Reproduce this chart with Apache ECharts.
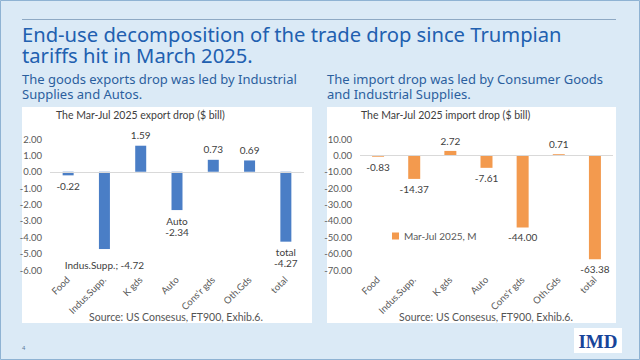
<!DOCTYPE html>
<html><head><meta charset="utf-8">
<script src="https://cdn.jsdelivr.net/npm/echarts@6/dist/echarts.min.js"></script>
<style>html,body{margin:0;padding:0;background:#dbeaf6}#c{width:640px;height:360px}</style>
</head><body><div id="c"></div>
<script>
const categories = ['Food', 'Indus.Supp.', 'K gds', 'Auto', "Cons'r gds", 'Oth.Gds', 'total'];
const exportValues = [-0.22, -4.72, 1.59, -2.34, 0.73, 0.69, -4.27];
const exportLabelPrefix = ['', 'Indus.Supp.; ', '', 'Auto\n', '', '', 'total\n'];
const importValues = [-0.83, -14.37, 2.72, -7.61, -44.00, 0.71, -63.38];
const importSeriesName = 'Mar-Jul 2025, M';
const exportTicks = { min: -6, max: 2, interval: 1 };
const importTicks = { min: -70, max: 10, interval: 10 };
const mainTitle = ['End-use decomposition of the trade drop since Trumpian', 'tariffs hit in March 2025.'];
const leftSubtitle = ['The goods exports drop was led by Industrial', 'Supplies and Autos.'];
const rightSubtitle = ['The import drop was led by Consumer Goods', 'and Industrial Supplies.'];
const exportChartTitle = 'The Mar-Jul 2025 export drop ($ bill)';
const importChartTitle = 'The Mar-Jul 2025 import drop ($ bill)';
const sourceText = 'Source: US Consesus, FT900, Exhib.6.';

const BLUE = '#4a7ec6', ORANGE = '#f39a4e';
const axisFont = { fontFamily: 'Lato, "Open Sans", sans-serif', fontSize: 9.5, color: '#595959' };
const hdFont = '"Noto Sans", "Open Sans", sans-serif';

function items(vals, prefix) {
  return vals.map((v, i) => ({
    value: v,
    label: {
      position: v < 0 ? 'bottom' : 'top',
      distance: (prefix && prefix[i].indexOf(';') >= 0) ? 10 : 5,
      formatter: (prefix ? prefix[i] : '') + v.toFixed(2)
    }
  }));
}
function txt(x, y, text, fill, font, lh, align) {
  return { type: 'text', x: x, y: y, style: { text: text, fill: fill, font: font, lineHeight: lh, align: align || 'left', verticalAlign: 'middle' } };
}

const chart = echarts.init(document.getElementById('c'), null, { renderer: 'svg' });
chart.setOption({
  animation: false,
  backgroundColor: '#dbeaf6',
  graphic: [
    { type: 'rect', z: -10, shape: { x: 0.5, y: 0.5, width: 639, height: 359 }, style: { fill: '#dbeaf6', stroke: '#8fb3d3', lineWidth: 1 } },
    { type: 'line', z: -5, shape: { x1: 22, y1: 19.5, x2: 616, y2: 19.5 }, style: { stroke: '#8ea9c4', lineWidth: 1 } },
    txt(22, 44.25, mainTitle.join('\n'), '#2160b0', '20.2px ' + hdFont, 20.5),
    txt(22, 86, leftSubtitle.join('\n'), '#2b5f9e', '13px ' + hdFont, 15),
    txt(327, 86, rightSubtitle.join('\n'), '#2b5f9e', '13px ' + hdFont, 15),
    { type: 'rect', z: -5, shape: { x: 22, y: 107, width: 290, height: 216 }, style: { fill: '#ffffff' } },
    { type: 'rect', z: -5, shape: { x: 327, y: 107, width: 289, height: 216 }, style: { fill: '#ffffff' } },
    txt(176, 317, sourceText, '#555555', '10.5px Lato, sans-serif', 12, 'center'),
    txt(486, 317, sourceText, '#555555', '10.5px Lato, sans-serif', 12, 'center'),
    txt(22, 348, '4', '#5a7a9a', '6px sans-serif', 7),
    { type: 'rect', z: -5, shape: { x: 574, y: 328, width: 48, height: 25 }, style: { fill: '#ffffff' } },
    txt(598, 341, 'IMD', '#17449a', 'bold 19px "Liberation Serif", serif', 20, 'center')
  ],
  title: [
    { text: exportChartTitle, left: 56, top: 109, textStyle: { fontFamily: 'Lato, sans-serif', fontSize: 10.5, fontWeight: 'normal', color: '#404040' }, padding: 0 },
    { text: importChartTitle, left: 361, top: 109, textStyle: { fontFamily: 'Lato, sans-serif', fontSize: 10.5, fontWeight: 'normal', color: '#404040' }, padding: 0 }
  ],
  legend: {
    data: [importSeriesName], left: 392, top: 231, itemWidth: 7, itemHeight: 7, itemGap: 4, padding: 0,
    icon: 'rect', textStyle: { fontFamily: 'Lato, sans-serif', fontSize: 10, color: '#595959' }
  },
  grid: [
    { left: 50, top: 139, width: 254, height: 131 },
    { left: 360, top: 139, width: 253, height: 131 }
  ],
  xAxis: [0, 1].map(i => ({
    type: 'category', gridIndex: i, data: categories,
    axisLine: { show: false }, axisTick: { show: false },
    axisLabel: Object.assign({ rotate: 45, margin: 8, interval: 0 }, axisFont)
  })),
  yAxis: [exportTicks, importTicks].map((t, i) => ({
    type: 'value', gridIndex: i, min: t.min, max: t.max, interval: t.interval,
    splitLine: { show: false }, axisLine: { show: false }, axisTick: { show: false },
    axisLabel: Object.assign({ formatter: v => v.toFixed(2), margin: 8 }, axisFont)
  })),
  series: [
    {
      name: 'exports', type: 'bar', xAxisIndex: 0, yAxisIndex: 0, barWidth: 11,
      itemStyle: { color: BLUE },
      label: { show: true, distance: 5, fontFamily: 'Lato, sans-serif', fontSize: 10, color: '#404040', lineHeight: 11 },
      data: items(exportValues, exportLabelPrefix),
      markLine: { silent: true, symbol: 'none', label: { show: false }, lineStyle: { color: '#d9d9d9', type: 'solid', width: 1 }, data: [{ yAxis: 0 }] }
    },
    {
      name: importSeriesName, type: 'bar', xAxisIndex: 1, yAxisIndex: 1, barWidth: 12,
      itemStyle: { color: ORANGE },
      label: { show: true, distance: 5, fontFamily: 'Lato, sans-serif', fontSize: 10, color: '#404040' },
      data: items(importValues),
      markLine: { silent: true, symbol: 'none', label: { show: false }, lineStyle: { color: '#d9d9d9', type: 'solid', width: 1 }, data: [{ yAxis: 0 }] }
    }
  ]
});
</script></body></html>
